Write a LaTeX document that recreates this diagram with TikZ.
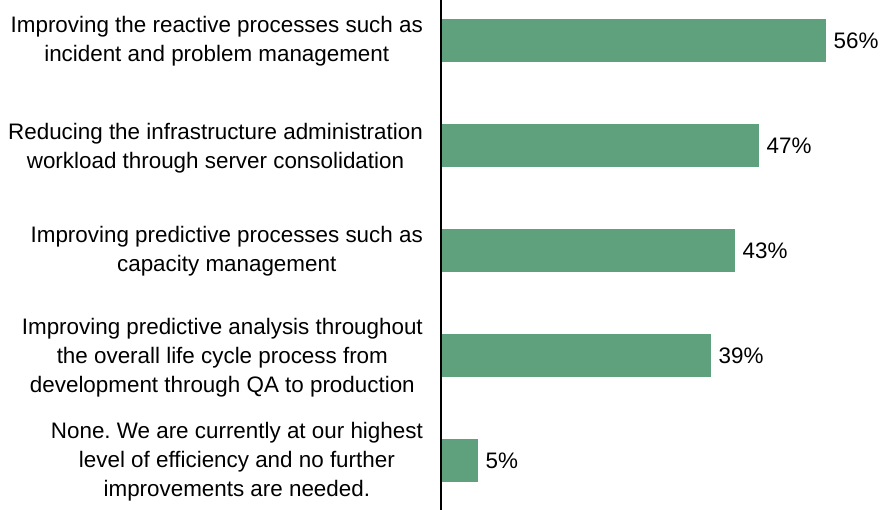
\documentclass[tikz,border=0pt]{standalone}
\usepackage{fontspec}
\setmainfont{Liberation Sans}
\frenchspacing
\definecolor{bargreen}{RGB}{95,161,124}
\tikzset{
  barbox/.style={fill=bargreen, draw=none, anchor=west, inner sep=0pt, minimum height=43pt},
  catlabel/.style={anchor=east, align=center, inner sep=0pt, font=\fontsize{22.4}{28.8}\selectfont},
  vallabel/.style={anchor=west, inner sep=0pt, font=\fontsize{22.4}{28.8}\selectfont},
}
\begin{document}
\begin{tikzpicture}[x=1pt,y=-1pt]
\useasboundingbox (0,0) rectangle (884,510);
\coordinate (axtop) at (441,0);
\coordinate (axbot) at (441,510);
% bars
\node[barbox, minimum width=385pt] (b1) at (441,40.8) {};
\node[barbox, minimum width=318pt] (b2) at (441,145.8) {};
\node[barbox, minimum width=294pt] (b3) at (441,250.8) {};
\node[barbox, minimum width=270pt] (b4) at (441,355.8) {};
\node[barbox, minimum width=37pt] (b5) at (441,460.8) {};
% values
\node[vallabel] (v1) at ([xshift=7pt]b1.east) {56\%};
\node[vallabel] (v2) at ([xshift=7pt]b2.east) {47\%};
\node[vallabel] (v3) at ([xshift=7pt]b3.east) {43\%};
\node[vallabel] (v4) at ([xshift=7pt]b4.east) {39\%};
\node[vallabel] (v5) at ([xshift=7pt]b5.east) {5\%};
% categories
\node[catlabel] (c1) at (423,41.2) {Improving the reactive processes such as\\incident and problem management};
\node[catlabel] (c2) at (423,148.3) {Reducing the infrastructure administration\\workload through server consolidation};
\node[catlabel] (c3) at (423,251.2) {Improving predictive processes such as\\capacity management};
\node[catlabel] (c4) at (423,358) {Improving predictive analysis throughout\\the overall life cycle process from\\development through QA to production};
\node[catlabel] (c5) at (423,462) {None. We are currently at our highest\\level of efficiency and no further\\improvements are needed.};
% axis
\draw[line width=1.2pt, black] (axtop) -- (axbot);
\end{tikzpicture}
\end{document}
